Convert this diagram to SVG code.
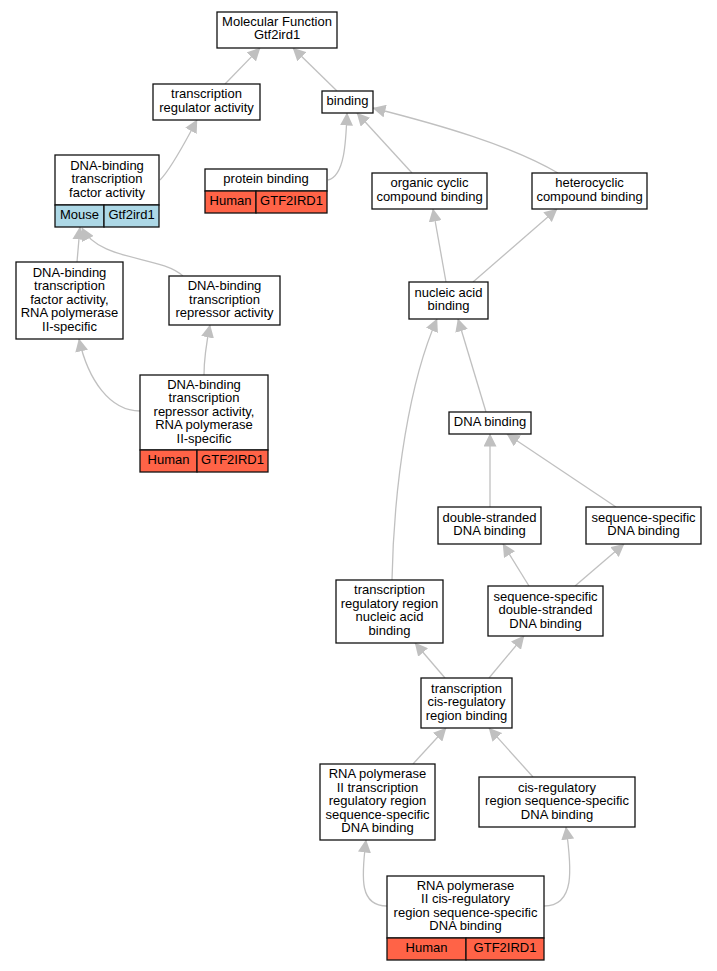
<svg xmlns="http://www.w3.org/2000/svg" width="717" height="971" viewBox="0 0 717 971">
<style>
.n{fill:#fff;stroke:#111;stroke-width:1.3}
.m{fill:#add8e6;stroke:#111;stroke-width:1.3}
.h{fill:#ff6347;stroke:#111;stroke-width:1.3}
text{font-family:"Liberation Sans",Arial,sans-serif;font-size:13px;text-anchor:middle;fill:#000}
.e{fill:none;stroke:#c0c0c0;stroke-width:1.3;marker-end:url(#a)}
</style>
<defs>
<marker id="a" markerUnits="userSpaceOnUse" markerWidth="13" markerHeight="13" viewBox="0 0 13 13" refX="12.5" refY="6.5" orient="auto">
<path d="M0,0 L13,6.5 L0,13 z" fill="#c0c0c0"/>
</marker>
</defs>
<rect width="717" height="971" fill="#fff"/>
<g id="edges">
<path class="e" d="M225,84 L260,48"/>
<path class="e" d="M337,91 L293,48"/>
<path class="e" d="M160,180 C172,168 186,140 197,120"/>
<path class="e" d="M328,180 C345,176 346,140 347,113"/>
<path class="e" d="M412,173 L357,113"/>
<path class="e" d="M558,173 C510,145 440,125 373,108"/>
<path class="e" d="M446,282 L433,209"/>
<path class="e" d="M473,282 L557,209"/>
<path class="e" d="M77,262 L80,227"/>
<path class="e" d="M183,276 C160,255 100,262 82,228"/>
<path class="e" d="M140,411 C110,411 88,380 79,339"/>
<path class="e" d="M204,375 C204,355 207,340 210,325"/>
<path class="e" d="M392,580 C394,480 410,380 437,319"/>
<path class="e" d="M486,412 L458,319"/>
<path class="e" d="M490,507 L490,434"/>
<path class="e" d="M616,507 L507,434"/>
<path class="e" d="M529,586 L503,544"/>
<path class="e" d="M575,586 L624,544"/>
<path class="e" d="M445,678 L415,643"/>
<path class="e" d="M489,678 L524,636"/>
<path class="e" d="M413,764 L446,728"/>
<path class="e" d="M533,777 L489,728"/>
<path class="e" d="M387,906 C360,906 361,880 366,840"/>
<path class="e" d="M544,906 C575,906 572,870 566,827"/>
</g>
<g id="mf">
<rect class="n" x="217" y="12" width="120" height="36"/>
<text x="277" y="25.5">Molecular Function</text>
<text x="277" y="39">Gtf2ird1</text>
</g>
<g id="tra">
<rect class="n" x="153" y="84" width="107" height="36"/>
<text x="206.5" y="98">transcription</text>
<text x="206.5" y="111.5">regulator activity</text>
</g>
<g id="binding">
<rect class="n" x="322" y="91" width="51" height="22"/>
<text x="347.5" y="105">binding</text>
</g>
<g id="dbtfa">
<rect class="n" x="55" y="155" width="104" height="50"/>
<rect class="m" x="55" y="205" width="49" height="22"/>
<rect class="m" x="104" y="205" width="55" height="22"/>
<text x="107" y="169.5">DNA-binding</text>
<text x="107" y="183">transcription</text>
<text x="107" y="196.5">factor activity</text>
<text x="79.5" y="219">Mouse</text>
<text x="131.5" y="219">Gtf2ird1</text>
</g>
<g id="pb">
<rect class="n" x="205" y="169" width="122" height="22"/>
<rect class="h" x="205" y="191" width="51" height="22"/>
<rect class="h" x="256" y="191" width="71" height="22"/>
<text x="266" y="183">protein binding</text>
<text x="230.5" y="205">Human</text>
<text x="291.5" y="205">GTF2IRD1</text>
</g>
<g id="occb">
<rect class="n" x="372" y="173" width="115" height="36"/>
<text x="429.5" y="187">organic cyclic</text>
<text x="429.5" y="200.5">compound binding</text>
</g>
<g id="hcb">
<rect class="n" x="532" y="173" width="115" height="36"/>
<text x="589.5" y="187">heterocyclic</text>
<text x="589.5" y="200.5">compound binding</text>
</g>
<g id="nab">
<rect class="n" x="409" y="282" width="79" height="37"/>
<text x="448.5" y="296.5">nucleic acid</text>
<text x="448.5" y="310">binding</text>
</g>
<g id="dbtfa2">
<rect class="n" x="16" y="262" width="107" height="77"/>
<text x="69.5" y="276.5">DNA-binding</text>
<text x="69.5" y="290">transcription</text>
<text x="69.5" y="303.5">factor activity,</text>
<text x="69.5" y="317">RNA polymerase</text>
<text x="69.5" y="330.5">II-specific</text>
</g>
<g id="dbtra">
<rect class="n" x="169" y="276" width="111" height="49"/>
<text x="224.5" y="290">DNA-binding</text>
<text x="224.5" y="303.5">transcription</text>
<text x="224.5" y="317">repressor activity</text>
</g>
<g id="dbtra2">
<rect class="n" x="140" y="375" width="128" height="75"/>
<rect class="h" x="140" y="450" width="57" height="22"/>
<rect class="h" x="197" y="450" width="71" height="22"/>
<text x="204" y="388.5">DNA-binding</text>
<text x="204" y="402">transcription</text>
<text x="204" y="415.5">repressor activity,</text>
<text x="204" y="429">RNA polymerase</text>
<text x="204" y="442.5">II-specific</text>
<text x="168.5" y="464">Human</text>
<text x="232.5" y="464">GTF2IRD1</text>
</g>
<g id="dnab">
<rect class="n" x="449" y="412" width="82" height="22"/>
<text x="490" y="426">DNA binding</text>
</g>
<g id="dsdb">
<rect class="n" x="438" y="507" width="103" height="37"/>
<text x="489.5" y="521.5">double-stranded</text>
<text x="489.5" y="535">DNA binding</text>
</g>
<g id="ssdb">
<rect class="n" x="586" y="507" width="115" height="37"/>
<text x="643.5" y="521.5">sequence-specific</text>
<text x="643.5" y="535">DNA binding</text>
</g>
<g id="trrnab">
<rect class="n" x="336" y="580" width="107" height="63"/>
<text x="389.5" y="594.25">transcription</text>
<text x="389.5" y="607.75">regulatory region</text>
<text x="389.5" y="621.25">nucleic acid</text>
<text x="389.5" y="634.75">binding</text>
</g>
<g id="ssdsdb">
<rect class="n" x="488" y="586" width="115" height="50"/>
<text x="545.5" y="600.5">sequence-specific</text>
<text x="545.5" y="614">double-stranded</text>
<text x="545.5" y="627.5">DNA binding</text>
</g>
<g id="tcrrb">
<rect class="n" x="421" y="678" width="91" height="50"/>
<text x="466.5" y="692.5">transcription</text>
<text x="466.5" y="706">cis-regulatory</text>
<text x="466.5" y="719.5">region binding</text>
</g>
<g id="rp2trr">
<rect class="n" x="320" y="764" width="115" height="76"/>
<text x="377.5" y="778">RNA polymerase</text>
<text x="377.5" y="791.5">II transcription</text>
<text x="377.5" y="805">regulatory region</text>
<text x="377.5" y="818.5">sequence-specific</text>
<text x="377.5" y="832">DNA binding</text>
</g>
<g id="crss">
<rect class="n" x="479" y="777" width="156" height="50"/>
<text x="557" y="791.5">cis-regulatory</text>
<text x="557" y="805">region sequence-specific</text>
<text x="557" y="818.5">DNA binding</text>
</g>
<g id="rp2cr">
<rect class="n" x="387" y="876" width="157" height="62"/>
<rect class="h" x="387" y="938" width="79" height="22"/>
<rect class="h" x="466" y="938" width="78" height="22"/>
<text x="465.5" y="889.75">RNA polymerase</text>
<text x="465.5" y="903.25">II cis-regulatory</text>
<text x="465.5" y="916.75">region sequence-specific</text>
<text x="465.5" y="930.25">DNA binding</text>
<text x="426.5" y="952">Human</text>
<text x="505" y="952">GTF2IRD1</text>
</g>
</svg>
